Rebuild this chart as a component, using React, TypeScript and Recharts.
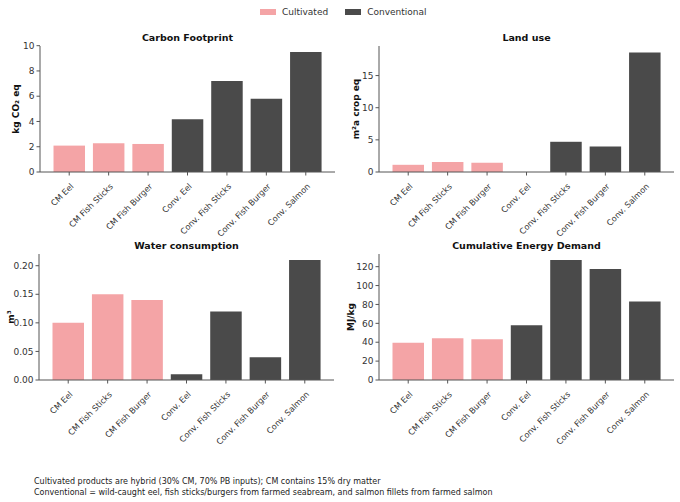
import React from "react";
import { Bar, BarChart, Cell, XAxis, YAxis } from "recharts";

const products = [
  "CM Eel",
  "CM Fish Sticks",
  "CM Fish Burger",
  "Conv. Eel",
  "Conv. Fish Sticks",
  "Conv. Fish Burger",
  "Conv. Salmon",
];
const kinds = ["cm", "cm", "cm", "conv", "conv", "conv", "conv"];

const carbon = [2.09, 2.28, 2.22, 4.18, 7.2, 5.79, 9.5];
const land = [1.12, 1.55, 1.44, 0, 4.7, 3.98, 18.6];
const water = [0.1, 0.15, 0.14, 0.01, 0.12, 0.04, 0.21];
const energy = [39.5, 44.3, 43.2, 57.9, 127.1, 117.5, 83.2];

const carbonTicks = [0, 2, 4, 6, 8, 10];
const landTicks = [0, 5, 10, 15];
const waterTicks = [0, 0.05, 0.1, 0.15, 0.2];
const energyTicks = [0, 20, 40, 60, 80, 100, 120];

const PINK = "#f4a4a6";
const DARK = "#4a4a4a";
const AXIS = "#555";
const FONT = "'DejaVu Sans', sans-serif";

const RotTick = (props: any) => {
  const { x, y, payload } = props;
  return (
    <g transform={`translate(${x + 0.5},${y + 5})`}>
      <text
        transform="rotate(-45)"
        textAnchor="end"
        dy="0.75em"
        fontSize={8.2}
        fontFamily={FONT}
        fill="#333"
      >
        {payload.value}
      </text>
    </g>
  );
};

type PanelProps = {
  title: string;
  unit: string;
  values: number[];
  ticks: number[];
  domainMax: number;
  left: number;
  top: number;
  padTop: number;
  xH: number;
  yWidth: number;
  labelX: number;
  fmt?: (v: number) => string;
};

const PLOT_W = 295;
const PLOT_H = 126;

function Panel({ title, unit, values, ticks, domainMax, left, top, padTop, xH, yWidth, labelX, fmt }: PanelProps) {
  const rows = products.map((p, i) => ({ name: p, value: values[i], kind: kinds[i] }));
  const h = padTop + PLOT_H + xH;
  return (
    <div style={{ position: "absolute", left, top, width: 340, height: h }}>
      <div
        style={{
          position: "absolute",
          left: yWidth,
          width: PLOT_W,
          top: padTop - 14,
          textAlign: "center",
          fontFamily: FONT,
          fontWeight: "bold",
          fontSize: 9.5,
          lineHeight: "12px",
          color: "#111",
        }}
      >
        {title}
      </div>
      <div style={{ position: "absolute", left: labelX, top: padTop + PLOT_H / 2, width: 0, height: 0 }}>
        <div
          style={{
            position: "absolute",
            left: 0,
            top: 0,
            transform: "translate(-50%, -50%) rotate(-90deg)",
            whiteSpace: "nowrap",
            fontFamily: FONT,
            fontWeight: "bold",
            fontSize: 9,
            lineHeight: "11px",
            color: "#111",
          }}
        >
          {unit}
        </div>
      </div>
      <BarChart
        width={340}
        height={h}
        data={rows}
        margin={{ top: padTop, right: 340 - yWidth - PLOT_W, bottom: 0, left: 0 }}
      >
        <XAxis
          dataKey="name"
          interval={0}
          height={xH}
          tick={<RotTick />}
          tickSize={3.5}
          tickLine={{ stroke: AXIS }}
          axisLine={{ stroke: AXIS }}
          padding={{ left: 9.5, right: 9.5 }}
        />
        <YAxis
          width={yWidth}
          domain={[0, domainMax]}
          ticks={ticks}
          tickFormatter={fmt}
          tickSize={3.5}
          tickLine={{ stroke: AXIS }}
          axisLine={{ stroke: AXIS }}
          tick={{ fontSize: 9, fontFamily: FONT, fill: "#333" }}
          allowDataOverflow
        />
        <Bar dataKey="value" barSize={31.5} isAnimationActive={false}>
          {rows.map((r, i) => (
            <Cell key={i} fill={r.kind === "cm" ? PINK : DARK} />
          ))}
        </Bar>
      </BarChart>
    </div>
  );
}

const legendItems = [
  { label: "Cultivated", color: PINK },
  { label: "Conventional", color: DARK },
];

export default function App() {
  return (
    <div style={{ position: "fixed", left: 0, top: 0, width: 680, height: 502, background: "#fff" }}>
      <div
        style={{
          position: "absolute",
          top: 6,
          left: 260,
          display: "flex",
          alignItems: "center",
          fontFamily: FONT,
          fontSize: 9,
          lineHeight: "12px",
          color: "#333",
        }}
      >
        {legendItems.map((it) => (
          <div key={it.label} style={{ display: "flex", alignItems: "center", marginRight: 17 }}>
            <span style={{ display: "inline-block", width: 16, height: 6, background: it.color, marginRight: 6 }} />
            <span>{it.label}</span>
          </div>
        ))}
      </div>
      <Panel title="Carbon Footprint" unit="kg CO₂ eq" values={carbon} ticks={carbonTicks} domainMax={9.975} left={0} top={0} padTop={46} xH={70} yWidth={40} labelX={16} />
      <Panel title="Land use" unit="m²a crop eq" values={land} ticks={landTicks} domainMax={19.6} left={340} top={0} padTop={46} xH={70} yWidth={39} labelX={16} />
      <Panel title="Water consumption" unit="m³" values={water} ticks={waterTicks} domainMax={0.2205} left={0} top={242} padTop={12} xH={70} yWidth={39} labelX={11} fmt={(v) => v.toFixed(2)} />
      <Panel title="Cumulative Energy Demand" unit="MJ/kg" values={energy} ticks={energyTicks} domainMax={133.4} left={340} top={242} padTop={12} xH={70} yWidth={39} labelX={11} />
      <div
        style={{
          position: "absolute",
          left: 34,
          top: 477,
          fontFamily: FONT,
          fontSize: 8,
          lineHeight: "10.5px",
          color: "#222",
        }}
      >
        <div>Cultivated products are hybrid (30% CM, 70% PB inputs); CM contains 15% dry matter</div>
        <div>Conventional = wild-caught eel, fish sticks/burgers from farmed seabream, and salmon fillets from farmed salmon</div>
      </div>
    </div>
  );
}
